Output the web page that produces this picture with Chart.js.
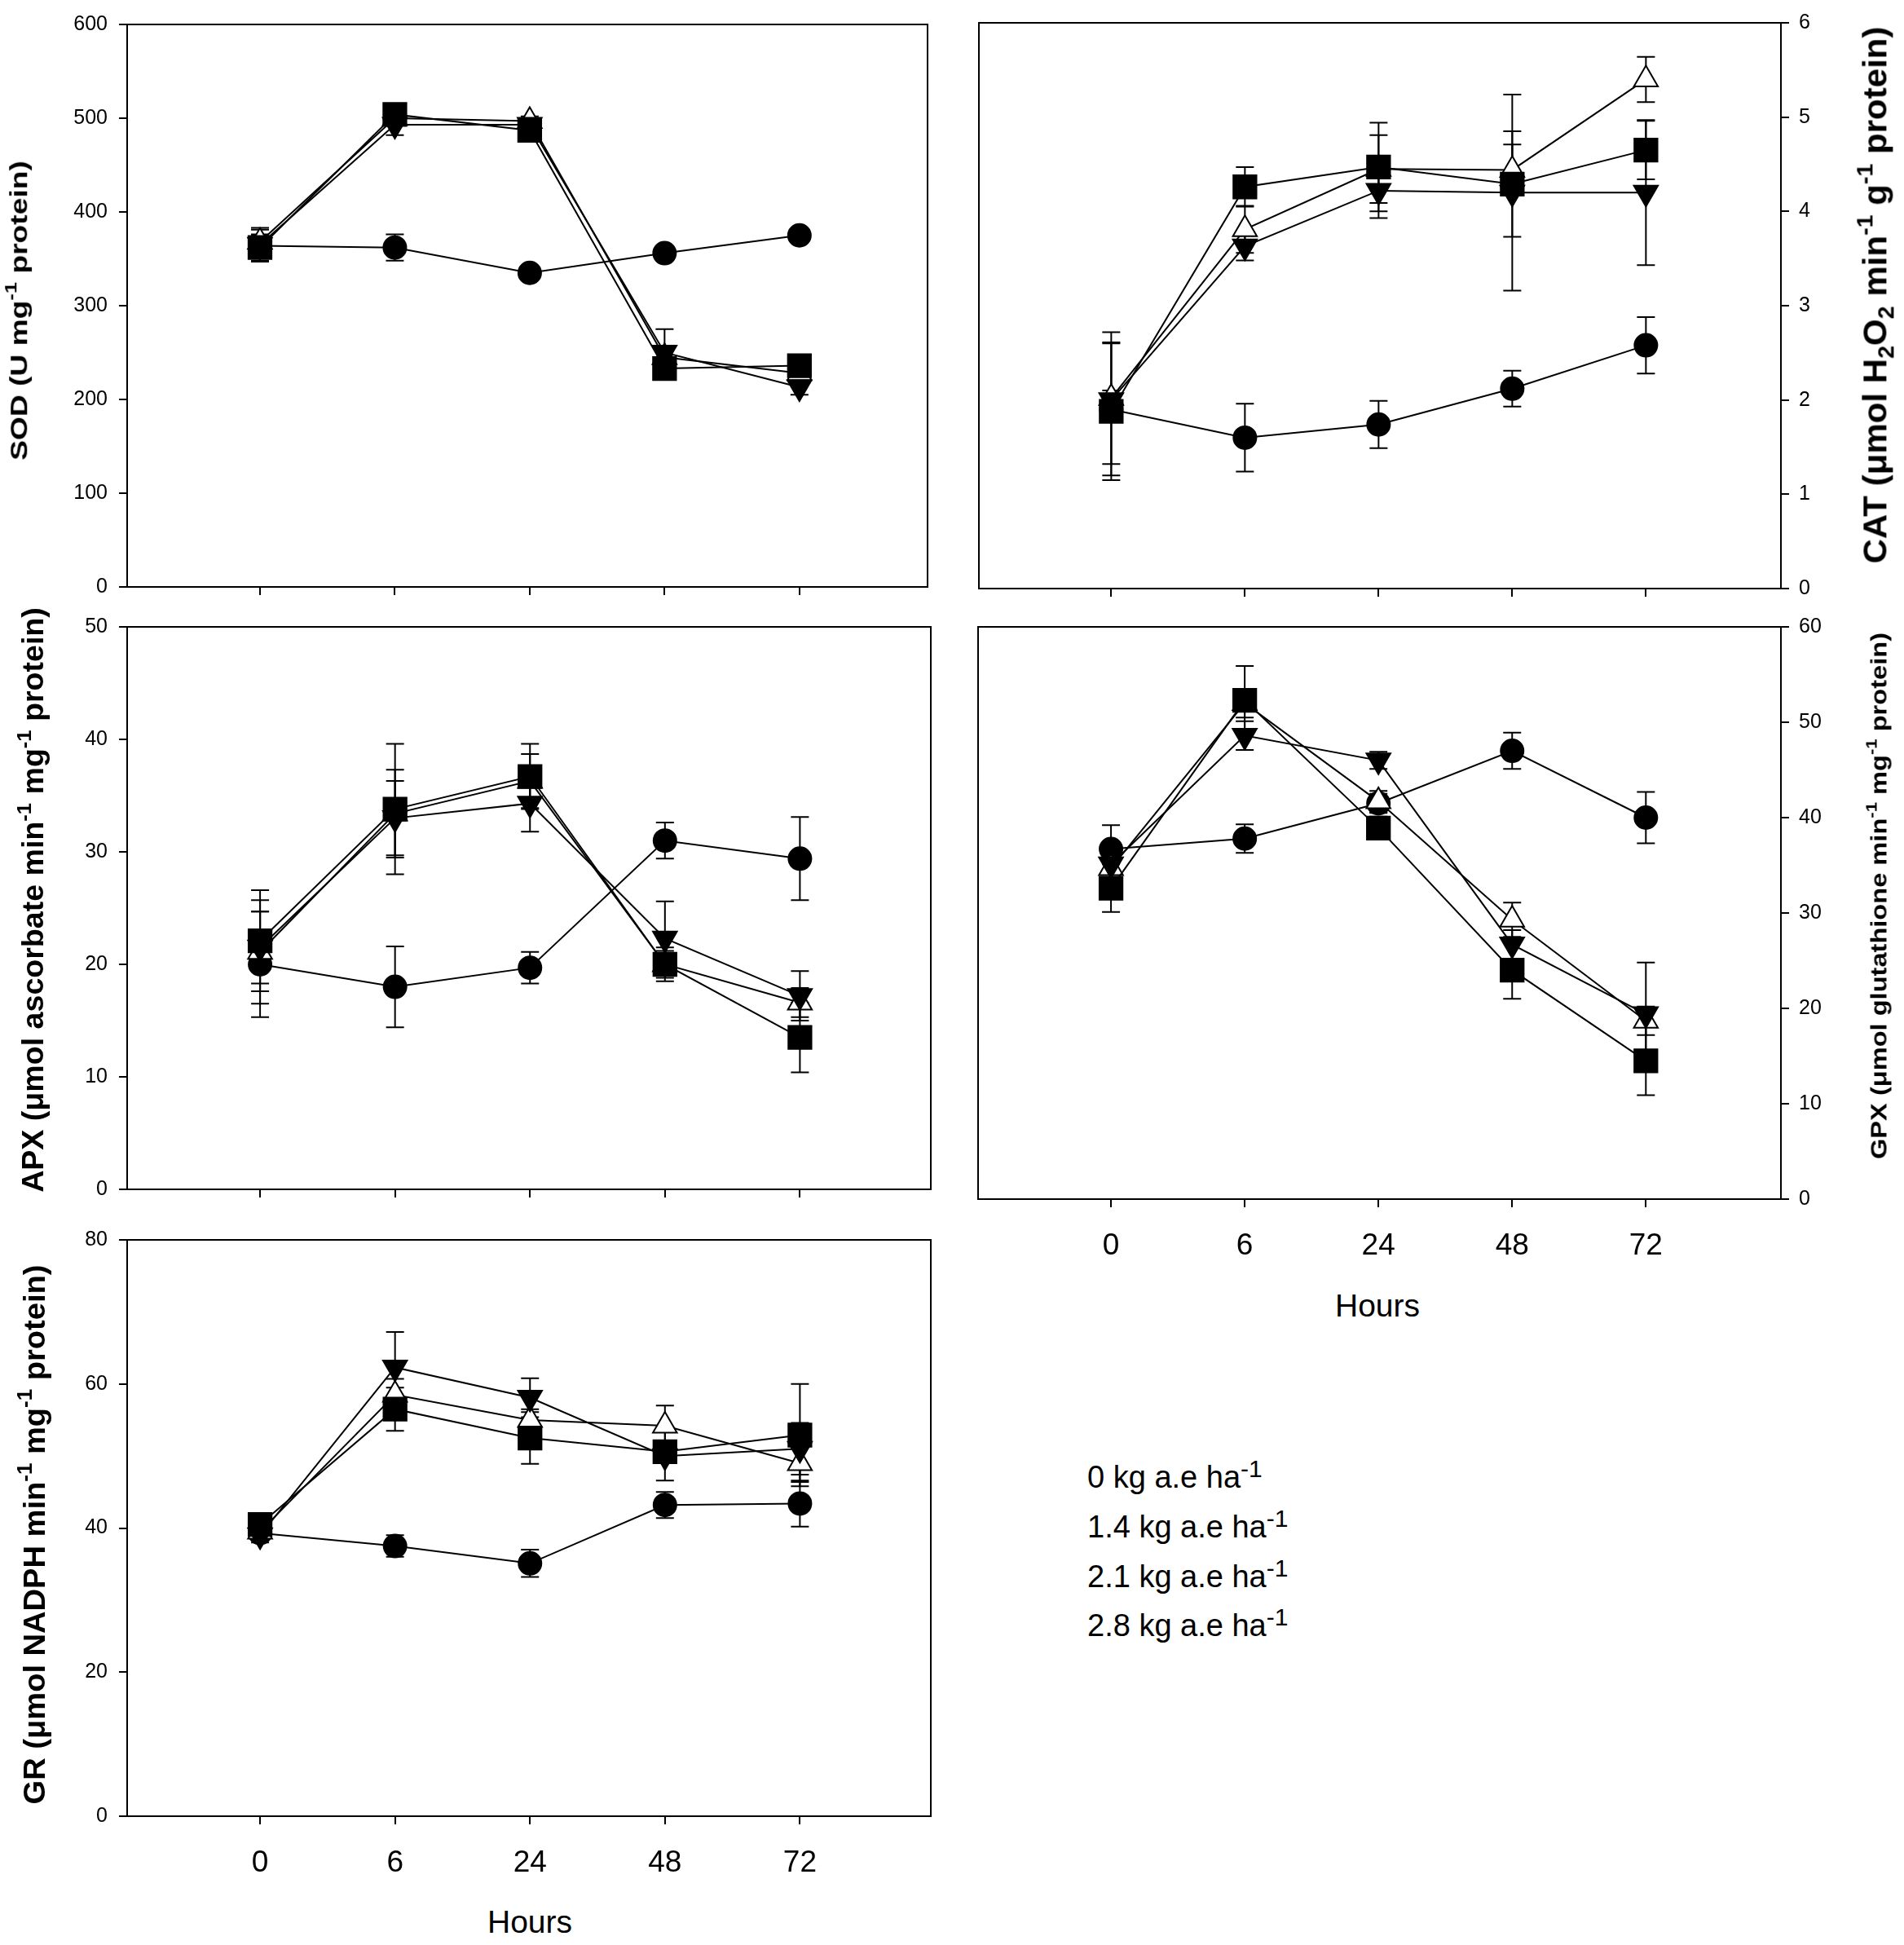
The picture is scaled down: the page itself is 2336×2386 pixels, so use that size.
<!DOCTYPE html>
<html>
<head>
<meta charset="utf-8">
<script src="https://cdn.jsdelivr.net/npm/chart.js@4.4.1/dist/chart.umd.min.js"></script>
<style>
html,body{margin:0;padding:0;background:#fff;}
#page{position:relative;width:2336px;height:2386px;background:#fff;overflow:hidden;font-family:'Liberation Sans',Arial,sans-serif;color:#000;}
canvas{position:absolute;}
.ytitle{position:absolute;left:0;top:0;white-space:nowrap;font-weight:bold;line-height:1;transform-origin:50% 50%;}
sup,sub{font-size:0.68em;position:relative;vertical-align:baseline;line-height:0;}
sup{top:-0.62em;}
sub{top:0.32em;}
.hours{position:absolute;font-size:39px;line-height:1;white-space:nowrap;transform:translate(-50%,-50%);}
.leg{position:absolute;font-size:38px;line-height:1;white-space:nowrap;}
.leg sup{font-size:30px;top:-13px;}
</style>
</head>
<body>
<div id="page"></div>
<script>
// ---------------- DATA ----------------
const hours = ['0', '6', '24', '48', '72'];
const legendLabels = ['0 kg a.e ha', '1.4 kg a.e ha', '2.1 kg a.e ha', '2.8 kg a.e ha'];

// SOD (U mg-1 protein)
const sodCircle   = [364, 362, 335, 356, 375];
const sodCircleE  = [17, 14, 5, 5, 6];
const sodDown     = [365, 493, 493, 250, 213];
const sodDownE    = [10, 11, 5, 25, 8];
const sodTri      = [368, 500, 497, 245, 228];
const sodTriE     = [15, 6, 5, 10, 6];
const sodSquare   = [362, 504, 487, 233, 236];
const sodSquareE  = [14, 8, 5, 8, 5];

// CAT
const catCircle   = [1.90, 1.60, 1.74, 2.12, 2.58];
const catCircleE  = [0.70, 0.36, 0.25, 0.19, 0.30];
const catDown     = [2.00, 3.63, 4.22, 4.20, 4.20];
const catDownE    = [0.10, 0.15, 0.29, 1.04, 0.77];
const catTri      = [2.02, 3.81, 4.45, 4.44, 5.40];
const catTriE     = [0.70, 0.25, 0.36, 0.27, 0.24];
const catSquare   = [1.88, 4.26, 4.47, 4.29, 4.65];
const catSquareE  = [0.73, 0.21, 0.47, 0.56, 0.31];

// APX
const apxCircle   = [20.0, 18.0, 19.7, 31.0, 29.4];
const apxCircleE  = [4.7, 3.6, 1.4, 1.6, 3.7];
const apxDown     = [21.5, 33.0, 34.3, 22.3, 17.2];
const apxDownE    = [3.2, 3.3, 2.5, 3.3, 2.2];
const apxTri      = [21.1, 33.4, 36.3, 20.0, 16.6];
const apxTriE     = [4.6, 3.9, 2.4, 1.2, 1.3];
const apxSquare   = [22.1, 33.8, 36.7, 20.0, 13.5];
const apxSquareE  = [4.5, 5.8, 2.9, 1.5, 3.1];

// GPX
const gpxCircle   = [36.7, 37.8, 41.5, 47.0, 40.0];
const gpxCircleE  = [2.5, 1.5, 1.0, 1.9, 2.7];
const gpxDown     = [35.1, 48.6, 46.0, 26.7, 19.4];
const gpxDownE    = [1.0, 1.5, 0.9, 1.5, 5.4];
const gpxTri      = [34.7, 52.0, 41.7, 29.3, 18.7];
const gpxTriE     = [1.5, 1.5, 1.1, 1.8, 1.5];
const gpxSquare   = [32.6, 52.3, 38.9, 24.0, 14.5];
const gpxSquareE  = [2.5, 3.6, 1.2, 3.0, 3.6];

// GR
const grCircle    = [39.3, 37.5, 35.1, 43.2, 43.4];
const grCircleE   = [1.0, 1.5, 1.9, 1.8, 3.2];
const grDown      = [39.0, 62.3, 58.1, 50.0, 51.0];
const grDownE     = [1.0, 4.9, 2.7, 3.4, 3.6];
const grTri       = [39.5, 58.5, 55.0, 54.2, 49.0];
const grTriE      = [1.0, 2.2, 1.5, 2.8, 2.6];
const grSquare    = [40.5, 56.5, 52.5, 50.6, 52.9];
const grSquareE   = [1.0, 3.0, 3.6, 1.5, 7.1];

// ---------------- RENDERING ----------------
Chart.defaults.font.family = "'Liberation Sans', Arial, sans-serif";
Chart.defaults.color = '#000';

const page = document.getElementById('page');

const markerStyles = [
  {pointStyle: 'circle',   radius: 14, bg: '#000', rotation: 0,   order: 3},
  {pointStyle: 'triangle', radius: 17, bg: '#000', rotation: 180, order: 1},
  {pointStyle: 'triangle', radius: 17, bg: '#fff', rotation: 0,   order: 2},
  {pointStyle: 'rect',     radius: 20, bg: '#000', rotation: 0,   order: 0}
];

const errorBarPlugin = {
  id: 'errorBars',
  beforeDatasetsDraw(chart) {
    const ctx = chart.ctx, xs = chart.scales.x, ys = chart.scales.y;
    ctx.save();
    ctx.strokeStyle = '#000';
    ctx.lineWidth = 2;
    chart.data.datasets.forEach(ds => {
      if (!ds.errors) return;
      ds.data.forEach((p, i) => {
        const e = ds.errors[i];
        const x = xs.getPixelForValue(p.x);
        const y1 = ys.getPixelForValue(p.y + e);
        const y2 = ys.getPixelForValue(p.y - e);
        ctx.beginPath();
        ctx.moveTo(x, y1); ctx.lineTo(x, y2);
        ctx.moveTo(x - 11, y1); ctx.lineTo(x + 11, y1);
        ctx.moveTo(x - 11, y2); ctx.lineTo(x + 11, y2);
        ctx.stroke();
      });
    });
    ctx.restore();
  }
};

const framePlugin = {
  id: 'frame',
  beforeDatasetsDraw(chart) {
    const a = chart.chartArea, ctx = chart.ctx;
    ctx.save();
    ctx.strokeStyle = '#000';
    ctx.lineWidth = 2;
    ctx.strokeRect(a.left, a.top, a.right - a.left, a.bottom - a.top);
    ctx.restore();
  }
};

function makePanel(p) {
  const axisW = 150, padT = 20, padSide = 12;
  const axisH = p.showX ? 90 : 20;
  const cv = document.createElement('canvas');
  let left, width, padding;
  if (p.pos === 'left') {
    left = p.L - axisW; width = p.R - p.L + axisW + padSide;
    padding = {top: padT, right: padSide, left: 0, bottom: 0};
  } else {
    left = p.L - padSide; width = p.R - p.L + padSide + axisW;
    padding = {top: padT, left: padSide, right: 0, bottom: 0};
  }
  const top = p.T - padT, height = p.B - p.T + padT + axisH;
  cv.width = width; cv.height = height;
  cv.style.left = left + 'px'; cv.style.top = top + 'px';
  cv.style.width = width + 'px'; cv.style.height = height + 'px';
  page.appendChild(cv);

  const datasets = p.series.map((s, k) => {
    const st = markerStyles[k];
    return {
      label: legendLabels[k],
      data: s.values.map((v, i) => ({x: i, y: v})),
      errors: s.errors,
      borderColor: '#000', borderWidth: 2, fill: false, tension: 0,
      pointStyle: st.pointStyle, pointRadius: st.radius, pointHoverRadius: st.radius,
      pointRotation: st.rotation,
      pointBackgroundColor: st.bg, pointBorderColor: '#000', pointBorderWidth: 2,
      order: st.order
    };
  });

  const gridOpts = {display: true, drawOnChartArea: false, drawTicks: true, tickLength: 10,
                    color: '#000', lineWidth: 2, tickColor: '#000', tickWidth: 2};
  const borderOpts = {display: true, color: '#000', width: 2};

  new Chart(cv, {
    type: 'line',
    data: {datasets},
    plugins: [framePlugin, errorBarPlugin],
    options: {
      responsive: false, animation: false, devicePixelRatio: 1, events: [],
      layout: {padding, autoPadding: false},
      plugins: {legend: {display: false}, tooltip: {enabled: false}, title: {display: false}},
      scales: {
        x: {
          type: 'linear', position: 'bottom', min: p.xMin, max: p.xMax,
          afterBuildTicks: s => { s.ticks = hours.map((h, i) => ({value: i})); },
          afterFit: s => { s.height = axisH; },
          ticks: {display: p.showX, callback: v => hours[v], font: {size: 37}, color: '#000',
                  padding: 26, maxRotation: 0, autoSkip: false},
          grid: gridOpts, border: borderOpts
        },
        y: {
          type: 'linear', position: p.pos, min: p.yMin, max: p.yMax,
          afterFit: s => { s.width = axisW; },
          ticks: {stepSize: p.step, font: {size: 25}, color: '#000',
                  padding: p.pos === 'left' ? 14 : 12},
          grid: gridOpts, border: borderOpts
        }
      }
    }
  });
}

function ser(values, errors) { return {values, errors}; }

makePanel({L: 156, T: 21, R: 1138, B: 729, pos: 'left', yMin: 0, yMax: 600, step: 100,
  xMin: -0.985, xMax: 4.95, showX: false,
  series: [ser(sodCircle, sodCircleE), ser(sodDown, sodDownE), ser(sodTri, sodTriE), ser(sodSquare, sodSquareE)]});
makePanel({L: 1201, T: 21, R: 2185, B: 729, pos: 'right', yMin: 0, yMax: 6, step: 1,
  xMin: -0.99, xMax: 5.01, showX: false,
  series: [ser(catCircle, catCircleE), ser(catDown, catDownE), ser(catTri, catTriE), ser(catSquare, catSquareE)]});
makePanel({L: 156, T: 760, R: 1142, B: 1468, pos: 'left', yMin: 0, yMax: 50, step: 10,
  xMin: -0.985, xMax: 4.97, showX: false,
  series: [ser(apxCircle, apxCircleE), ser(apxDown, apxDownE), ser(apxTri, apxTriE), ser(apxSquare, apxSquareE)]});
makePanel({L: 1200, T: 762, R: 2185, B: 1471, pos: 'right', yMin: 0, yMax: 60, step: 10,
  xMin: -0.994, xMax: 5.01, showX: true,
  series: [ser(gpxCircle, gpxCircleE), ser(gpxDown, gpxDownE), ser(gpxTri, gpxTriE), ser(gpxSquare, gpxSquareE)]});
makePanel({L: 156, T: 1512, R: 1142, B: 2228, pos: 'left', yMin: 0, yMax: 80, step: 20,
  xMin: -0.985, xMax: 4.97, showX: true,
  series: [ser(grCircle, grCircleE), ser(grDown, grDownE), ser(grTri, grTriE), ser(grSquare, grSquareE)]});

// ---------------- TEXT ----------------
const titles = [
  {html: 'SOD (U mg<sup>-1</sup> protein)', cx: 23, cy: 381, len: 367, size: 30},
  {html: 'APX (&mu;mol ascorbate min<sup>-1</sup> mg<sup>-1</sup> protein)', cx: 41, cy: 1104, len: 718, size: 36},
  {html: 'GR (&mu;mol NADPH min<sup>-1</sup> mg<sup>-1</sup> protein)', cx: 42, cy: 1882, len: 662, size: 37},
  {html: 'CAT (&mu;mol H<sub>2</sub>O<sub>2</sub> min<sup>-1</sup> g<sup>-1</sup> protein)', cx: 2300, cy: 362, len: 659, size: 40},
  {html: 'GPX (&mu;mol glutathione min<sup>-1</sup> mg<sup>-1</sup> protein)', cx: 2305, cy: 1099, len: 646, size: 28}
];
const titleEls = titles.map(t => {
  const d = document.createElement('div');
  d.className = 'ytitle';
  d.style.fontSize = t.size + 'px';
  d.innerHTML = t.html;
  page.appendChild(d);
  return d;
});
function placeTitles() {
  titles.forEach((t, i) => {
    const d = titleEls[i];
    const w = d.offsetWidth, h = d.offsetHeight;
    const s = t.len / w;
    d.style.left = (t.cx - w / 2) + 'px';
    d.style.top = (t.cy - h / 2) + 'px';
    d.style.transform = 'rotate(-90deg) scaleX(' + s.toFixed(4) + ')';
  });
}
placeTitles();
if (document.fonts && document.fonts.ready) document.fonts.ready.then(placeTitles);

[[1690, 1601], [650, 2357]].forEach(([x, y]) => {
  const d = document.createElement('div');
  d.className = 'hours';
  d.textContent = 'Hours';
  d.style.left = x + 'px'; d.style.top = y + 'px';
  page.appendChild(d);
});

const legendTops = [1793, 1854, 1915, 1975];
legendLabels.forEach((lab, i) => {
  const d = document.createElement('div');
  d.className = 'leg';
  d.innerHTML = lab + '<sup>-1</sup>';
  d.style.left = '1334px';
  d.style.top = legendTops[i] + 'px';
  page.appendChild(d);
});
</script>
</body>
</html>
